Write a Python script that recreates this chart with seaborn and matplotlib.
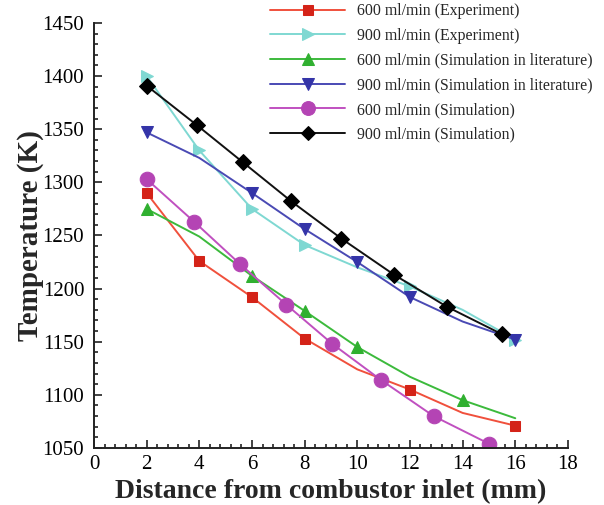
import matplotlib
matplotlib.use("Agg")
import matplotlib.pyplot as plt
from matplotlib.ticker import MultipleLocator
import seaborn as sns
import pandas as pd

# Temperature along the combustor, distance in mm, temperature in K
exp600_x = [2, 4, 6, 8, 10, 12, 14, 16]
exp600_t = [1290, 1226, 1192, 1153, 1124, 1105, 1083, 1071]
exp600_marks = [0, 1, 2, 3, 5, 7]

exp900_x = [2, 4, 6, 8, 10, 12, 14, 16]
exp900_t = [1400, 1330, 1275, 1241, 1220, 1202, 1180, 1152]
exp900_marks = [0, 1, 2, 3, 5, 7]

lit600_x = [2, 4, 6, 8, 10, 12, 14, 16]
lit600_t = [1275, 1249, 1212, 1179, 1145, 1117, 1095, 1078]
lit600_marks = [0, 2, 3, 4, 6]

lit900_x = [2, 4, 6, 8, 10, 12, 14, 16]
lit900_t = [1347, 1323, 1290, 1256, 1225, 1192, 1169, 1152]
lit900_marks = [0, 2, 3, 4, 5, 7]

sim600_x = [2, 3.8, 5.55, 7.3, 9.05, 10.9, 12.9, 15.0]
sim600_t = [1303, 1263, 1223, 1185, 1148, 1114, 1080, 1054]

sim900_x = [2, 3.9, 5.65, 7.5, 9.4, 11.4, 13.4, 15.5]
sim900_t = [1391, 1354, 1319, 1282, 1247, 1213, 1183, 1157]

labels = [
    "600 ml/min (Experiment)",
    "900 ml/min (Experiment)",
    "600 ml/min (Simulation in literature)",
    "900 ml/min (Simulation in literature)",
    "600 ml/min (Simulation)",
    "900 ml/min (Simulation)",
]

sns.set_theme(style="ticks")
plt.rcParams["font.family"] = ["Liberation Serif", "DejaVu Serif"]

fig = plt.figure(figsize=(6.04, 5.05), dpi=100)
ax = fig.add_axes([0.1556, 0.1129, 0.7847, 0.8416])

series = [
    (exp600_x, exp600_t, exp600_marks, "#f0503c", "#d42318", "s", 7.5),
    (exp900_x, exp900_t, exp900_marks, "#7fd8d2", "#7fd8d2", ">", 8.5),
    (lit600_x, lit600_t, lit600_marks, "#3cba3c", "#30b030", "^", 8.5),
    (lit900_x, lit900_t, lit900_marks, "#4a4ab4", "#3434a8", "v", 8.5),
    (sim600_x, sim600_t, None, "#c050c0", "#b444b4", "o", 10.5),
    (sim900_x, sim900_t, None, "#111111", "#000000", "D", 8.0),
]

handles = []
for (xs, ts, marks, lc, mc, mk, ms), lab in zip(series, labels):
    df = pd.DataFrame({"x": xs, "t": ts})
    sns.lineplot(data=df, x="x", y="t", ax=ax, sort=False, color=lc,
                 linewidth=1.4, marker=mk, markersize=ms,
                 markerfacecolor=mc, markeredgecolor=mc,
                 markevery=marks, label=lab, legend=False)
    handles.append(ax.lines[-1])

ax.set_xlim(0, 18)
ax.set_ylim(1050, 1450)
ax.xaxis.set_major_locator(MultipleLocator(2))
ax.xaxis.set_minor_locator(MultipleLocator(0.4))
ax.yaxis.set_major_locator(MultipleLocator(50))
ax.yaxis.set_minor_locator(MultipleLocator(10))
ax.tick_params(which="both", direction="in", colors="#222222", labelcolor="black",
               labelsize=15, width=1.2)
ax.tick_params(which="major", length=6)
ax.tick_params(which="minor", length=3)
ax.tick_params(axis="x", pad=5)
ax.tick_params(axis="y", pad=7)
sns.despine(ax=ax)
for s in ("left", "bottom"):
    ax.spines[s].set_linewidth(1.4)
    ax.spines[s].set_color("#222222")

ax.set_xlabel("Distance from combustor inlet (mm)", fontsize=20,
              fontweight="bold", labelpad=4)
ax.set_ylabel("Temperature (K)", fontsize=21, fontweight="bold", labelpad=-1)

leg = fig.legend(handles=handles, labels=labels, loc="upper right",
                 bbox_to_anchor=(1.005, 1.022), frameon=False, fontsize=11.4,
                 handlelength=4.75, handletextpad=0.76, labelspacing=0.55)
for h in leg.legend_handles:
    h.set_markersize(h.get_markersize() * 0.95)

fig.savefig("out.png", dpi=100)
